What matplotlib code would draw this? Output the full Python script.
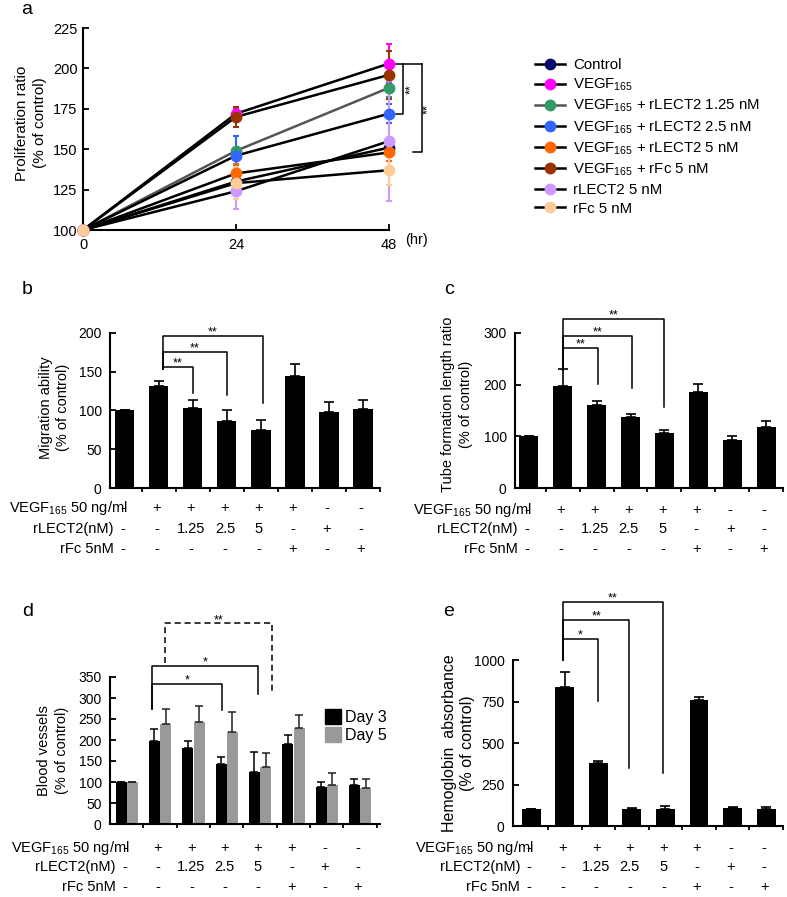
import matplotlib
matplotlib.use("Agg")
import matplotlib.pyplot as plt
from matplotlib.lines import Line2D
from matplotlib.patches import Patch

plt.rcParams["font.family"] = ["Liberation Sans", "DejaVu Sans"]
plt.rcParams["mathtext.fontset"] = "custom"
plt.rcParams["mathtext.rm"] = "Liberation Sans"
plt.rcParams["mathtext.it"] = "Liberation Sans:italic"
plt.rcParams["mathtext.bf"] = "Liberation Sans:bold"

# ---- panel a: proliferation time course ----
hours = [0, 24, 48]
prolif_labels = [
    "Control",
    "VEGF$_{165}$",
    "VEGF$_{165}$ + rLECT2 1.25 nM",
    "VEGF$_{165}$ + rLECT2 2.5 nM",
    "VEGF$_{165}$ + rLECT2 5 nM",
    "VEGF$_{165}$ + rFc 5 nM",
    "rLECT2 5 nM",
    "rFc 5 nM",
]
prolif_mean = [
    [100, 130, 151],
    [100, 172, 203],
    [100, 149, 188],
    [100, 146, 172],
    [100, 135, 148],
    [100, 170, 196],
    [100, 124, 155],
    [100, 129, 137],
]
prolif_err = [
    [0, 4, 3],
    [0, 3, 12],
    [0, 9, 6],
    [0, 12, 6],
    [0, 6, 5],
    [0, 6, 15],
    [0, 11, 37],
    [0, 10, 9],
]
marker_colors = ["#0b0b6b", "#ff00ff", "#339966", "#3366ff", "#ff6600", "#993300", "#cc99ff", "#ffcc99"]
line_colors = ["k", "k", "#555555", "k", "k", "k", "k", "k"]

# ---- treatment table shared by b-e ----
row_labels = ["VEGF$_{165}$ 50 ng/ml", "rLECT2(nM)", "rFc 5nM"]
vegf_row = ["-", "+", "+", "+", "+", "+", "-", "-"]
lect2_row = ["-", "-", "1.25", "2.5", "5", "-", "+", "-"]
rfc_row = ["-", "-", "-", "-", "-", "+", "-", "+"]

migration = [100, 131, 103, 86, 75, 145, 98, 102]
migration_err = [0, 7, 10, 14, 13, 15, 13, 11]
tube = [100, 197, 160, 137, 106, 186, 93, 119]
tube_err = [0, 34, 8, 7, 7, 15, 8, 11]
day3 = [100, 197, 180, 143, 123, 190, 89, 93]
day3_err = [0, 29, 18, 17, 49, 22, 10, 14]
day5 = [100, 237, 244, 220, 136, 229, 92, 86]
day5_err = [0, 36, 38, 46, 32, 31, 30, 21]
hemo = [100, 839, 380, 101, 105, 757, 107, 103]
hemo_err = [0, 86, 12, 10, 14, 22, 8, 10]

W, H = 787, 897
fig = plt.figure(figsize=(W / 100, H / 100), dpi=100)


def px_axes(l, t, r, b):
    return fig.add_axes([l / W, 1 - b / H, (r - l) / W, (b - t) / H])


def style_axes(ax, fs=10, pad=6):
    for s in ("top", "right"):
        ax.spines[s].set_visible(False)
    for s in ("left", "bottom"):
        ax.spines[s].set_linewidth(1.5)
    ax.tick_params(axis="y", direction="in", length=4, width=1.3, labelsize=fs, pad=pad)


def bar_axes(ax, xlim):
    style_axes(ax)
    ax.set_xlim(*xlim)
    ax.set_xticks([i + 0.5 for i in range(8)])
    ax.set_xticklabels([])
    ax.tick_params(axis="x", direction="out", length=3, width=1.3)


def table(ax, offs=(21, 41, 61)):
    rows = [vegf_row, lect2_row, rfc_row]
    for r, (lab, vals) in enumerate(zip(row_labels, rows)):
        lx = 0.08 if r == 0 else -0.33
        ax.annotate(lab, xy=(lx, 0), xycoords=("data", "axes fraction"),
                    xytext=(0, -offs[r]), textcoords="offset pixels",
                    ha="right", va="center", fontsize=10.5, annotation_clip=False)
        for i, v in enumerate(vals):
            ax.annotate(v, xy=(i - 0.06, 0), xycoords=("data", "axes fraction"),
                        xytext=(0, -offs[r]), textcoords="offset pixels",
                        ha="center", va="center", fontsize=10.5, annotation_clip=False)


def bracket(ax, x0, x1, y, y0, y1, txt, ls="-"):
    ax.plot([x0, x0, x1, x1], [y0, y, y, y1], color="k", lw=1.1, ls=ls, clip_on=False)
    ax.annotate(txt, xy=((x0 + x1) / 2, y), xytext=(0, -2), textcoords="offset points",
                ha="center", va="bottom", fontsize=9, annotation_clip=False)


def ylab(ax, text, x, y=0.5, fs=10.5):
    ax.text(x, y, text, transform=ax.transAxes, rotation=90, ha="center", va="center",
            multialignment="center", fontsize=fs, linespacing=1.3)


# ---- a ----
axa = px_axes(83, 28, 389, 230)
style_axes(axa, fs=10.5, pad=4)
for m, e, mc, lc in zip(prolif_mean, prolif_err, marker_colors, line_colors):
    axa.plot(hours, m, color=lc, lw=1.8, zorder=2, clip_on=False)
    axa.errorbar(hours, m, yerr=e, fmt="none", ecolor=mc, elinewidth=1.5, capsize=2.5,
                 capthick=1.5, zorder=3, clip_on=False)
for m, mc in zip(prolif_mean, marker_colors):
    axa.plot(hours, m, "o", color=mc, ms=7.5, zorder=4, clip_on=False)
axa.set_xlim(0, 48)
axa.set_ylim(100, 225)
axa.set_xticks(hours)
axa.set_yticks(range(100, 226, 25))
axa.tick_params(axis="x", direction="in", length=4, width=1.3, labelsize=10.5, pad=6)
fig.text(405 / W, 1 - 240 / H, "(hr)", fontsize=10.5, va="center")
ylab(axa, "Proliferation ratio\n(% of control)", -0.17, 0.53, fs=11)
axa.plot([49.1, 53.1], [203, 203], color="k", lw=1.1, clip_on=False)
axa.plot([50.2, 50.2, 49.1], [203, 172, 172], color="k", lw=1.1, clip_on=False)
axa.plot([53.1, 53.1, 51.8], [203, 148, 148], color="k", lw=1.1, clip_on=False)
axa.text(51.4, 187, "**", rotation=90, ha="center", va="center", fontsize=9)
axa.text(54.2, 175, "**", rotation=90, ha="center", va="center", fontsize=9)

handles = [Line2D([], [], color=lc, lw=1.8, marker="o", ms=7.5, mfc=mc, mec=mc)
           for mc, lc in zip(marker_colors, line_colors)]
fig.legend(handles, prolif_labels, loc="upper left", bbox_to_anchor=(535 / W, 1 - 58 / H),
           frameon=False, fontsize=10.8, handlelength=2.0, handletextpad=0.55,
           labelspacing=0.32, borderpad=0, borderaxespad=0)

# ---- b ----
x8 = list(range(8))
axb = px_axes(110, 333, 380, 488)
bar_axes(axb, (-0.44, 7.5))
axb.bar(x8, migration, 0.56, color="k", yerr=([0] * 8, migration_err),
        error_kw=dict(capsize=3.5, elinewidth=1.2, capthick=1.2))
axb.set_ylim(0, 200)
axb.set_yticks(range(0, 201, 50))
ylab(axb, "Migration ability\n(% of control)", -0.205, 0.52)
table(axb, (20, 41, 61))
bracket(axb, 1.12, 2.0, 156, 153, 122, "**")
bracket(axb, 1.12, 3.0, 176, 153, 120, "**")
bracket(axb, 1.12, 4.05, 196, 153, 110, "**")

# ---- c ----
axc = px_axes(515, 333, 783, 488)
bar_axes(axc, (-0.41, 7.5))
axc.bar(x8, tube, 0.56, color="k", yerr=([0] * 8, tube_err),
        error_kw=dict(capsize=3.5, elinewidth=1.2, capthick=1.2))
axc.set_ylim(0, 300)
axc.set_yticks(range(0, 301, 100))
ylab(axc, "Tube formation length ratio\n(% of control)", -0.216, 0.54)
table(axc, (22, 41, 61))
bracket(axc, 1.0, 2.05, 271, 229, 202, "**")
bracket(axc, 1.0, 3.03, 295, 229, 193, "**")
bracket(axc, 1.0, 3.98, 327, 229, 157, "**")

# ---- d ----
axd = px_axes(110, 677, 380, 824)
bar_axes(axd, (-0.5, 7.6))
xd3 = [i - 0.17 for i in x8]
xd5 = [i + 0.17 for i in x8]
axd.bar(xd3, day3, 0.33, color="k", yerr=([0] * 8, day3_err),
        error_kw=dict(capsize=3, elinewidth=1.1, capthick=1.1), label="Day 3")
axd.bar(xd5, day5, 0.33, color="#999999", yerr=([0] * 8, day5_err),
        error_kw=dict(capsize=3, elinewidth=1.1, capthick=1.1, ecolor="#222222"), label="Day 5")
axd.set_ylim(0, 350)
axd.set_yticks(range(0, 351, 50))
ylab(axd, "Blood vessels\n(% of control)", -0.211, 0.5)
table(axd, (24, 43, 63))
bracket(axd, 0.76, 2.85, 334, 274, 272, "*")
bracket(axd, 0.76, 3.93, 376, 274, 310, "*")
bracket(axd, 1.16, 4.35, 478, 384, 310, "**", ls=(0, (4, 2.5)))
axd.legend(handles=[Patch(color="k"), Patch(color="#999999")], labels=["Day 3", "Day 5"],
           loc="upper left", bbox_to_anchor=(0.795, 0.78), frameon=False, fontsize=11.5,
           handlelength=1.0, handleheight=1.0, handletextpad=0.25, labelspacing=0.15,
           borderpad=0, borderaxespad=0)

# ---- e ----
axe = px_axes(513, 660, 783, 826)
bar_axes(axe, (-0.54, 7.5))
axe.bar(x8, hemo, 0.56, color="k", yerr=([0] * 8, hemo_err),
        error_kw=dict(capsize=3.5, elinewidth=1.2, capthick=1.2))
axe.set_ylim(0, 1000)
axe.set_yticks(range(0, 1001, 250))
ylab(axe, "Hemoglobin  absorbance\n(% of control)", -0.202, 0.5, fs=11.5)
table(axe, (22, 41, 61))
bracket(axe, 0.96, 1.98, 1127, 1000, 753, "*")
bracket(axe, 0.96, 2.92, 1243, 1000, 350, "**")
bracket(axe, 0.96, 3.92, 1349, 1000, 319, "**")

# panel letters
for lab, (x, y) in zip("abcde", [(27, 10), (27, 289), (449, 289), (28, 611), (449, 612)]):
    fig.text(x / W, 1 - y / H, lab, fontsize=14, ha="center", va="center")

fig.savefig("out.png", dpi=100)
